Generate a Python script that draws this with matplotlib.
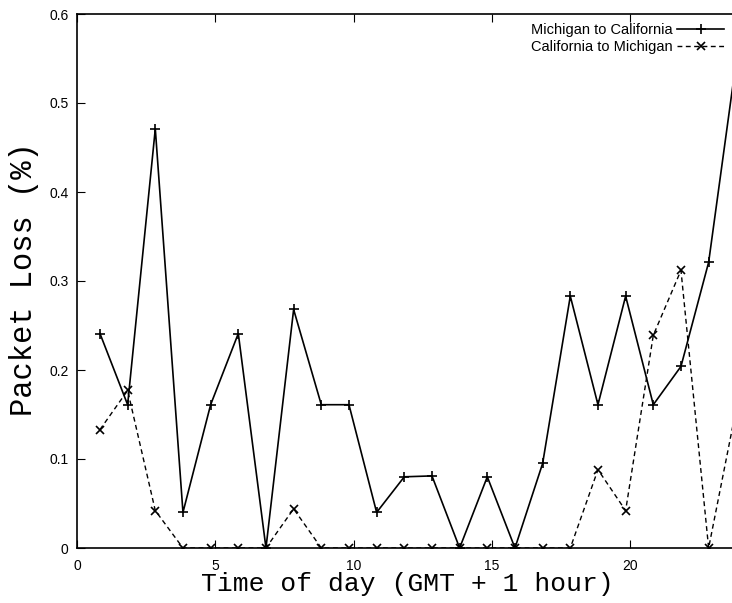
import matplotlib
matplotlib.use("Agg")
import matplotlib.pyplot as plt

hours = [0.83, 1.83, 2.83, 3.83, 4.83, 5.83, 6.83, 7.83, 8.83, 9.83, 10.83, 11.83,
         12.83, 13.83, 14.83, 15.83, 16.83, 17.83, 18.83, 19.83, 20.83, 21.83, 22.83, 23.83]
mi_to_ca = [0.241, 0.161, 0.471, 0.040, 0.161, 0.241, 0.0, 0.268, 0.161, 0.161, 0.040, 0.080,
            0.081, 0.0, 0.080, 0.0, 0.095, 0.283, 0.161, 0.283, 0.161, 0.204, 0.321, 0.548]
ca_to_mi = [0.133, 0.177, 0.042, 0.0, 0.0, 0.0, 0.0, 0.044, 0.0, 0.0, 0.0, 0.0,
            0.0, 0.0, 0.0, 0.0, 0.0, 0.0, 0.088, 0.042, 0.239, 0.312, 0.0, 0.157]
xticks = [0, 5, 10, 15, 20]
yticks = [0, 0.1, 0.2, 0.3, 0.4, 0.5, 0.6]
ytick_labels = ["0", "0.1", "0.2", "0.3", "0.4", "0.5", "0.6"]

W, H = 732, 603
fig = plt.figure(figsize=(W / 100, H / 100), dpi=100)
ax = fig.add_axes([77 / W, 55 / H, 664 / W, 534 / H])

shown = list(range(len(hours) - 1))
ax.plot(hours, mi_to_ca, color="black", lw=1.2, marker="+", ms=7.5, mew=1.2,
        markevery=shown, label="Michigan to California")
ax.plot(hours, ca_to_mi, color="black", lw=1.0, ls=(0, (3.5, 2.5)), marker="x", ms=5.5, mew=1.2,
        markevery=shown, label="California to Michigan")

ax.set_xlim(0, 24)
ax.set_ylim(0, 0.6)
ax.set_xticks(xticks)
ax.set_xticklabels([str(t) for t in xticks], fontsize=10, family="Liberation Sans")
ax.set_yticks(yticks)
ax.set_yticklabels(ytick_labels, fontsize=10, family="Liberation Sans")
ax.tick_params(direction="in", length=6, width=0.8, top=True, right=True)
ax.tick_params(axis="x", pad=8)
ax.tick_params(axis="y", pad=6)
for s in ax.spines.values():
    s.set_linewidth(1.2)

fig.text(407 / W, 1 - 584 / H, "Time of day (GMT + 1 hour)", family="Liberation Mono",
         fontsize=19, ha="center", va="center")
fig.text(24 / W, 1 - 279 / H, "Packet Loss (%)", family="Liberation Mono",
         fontsize=22, ha="center", va="center", rotation=90)

fig.legend(loc="upper right", bbox_to_anchor=(724 / W, 1 - 23 / H), frameon=False,
           markerfirst=False, handlelength=3.2, handletextpad=0.3,
           labelspacing=0.2, borderaxespad=0, borderpad=0,
           prop={"family": "Liberation Sans", "size": 10.5})

fig.savefig("out.png", dpi=100)
